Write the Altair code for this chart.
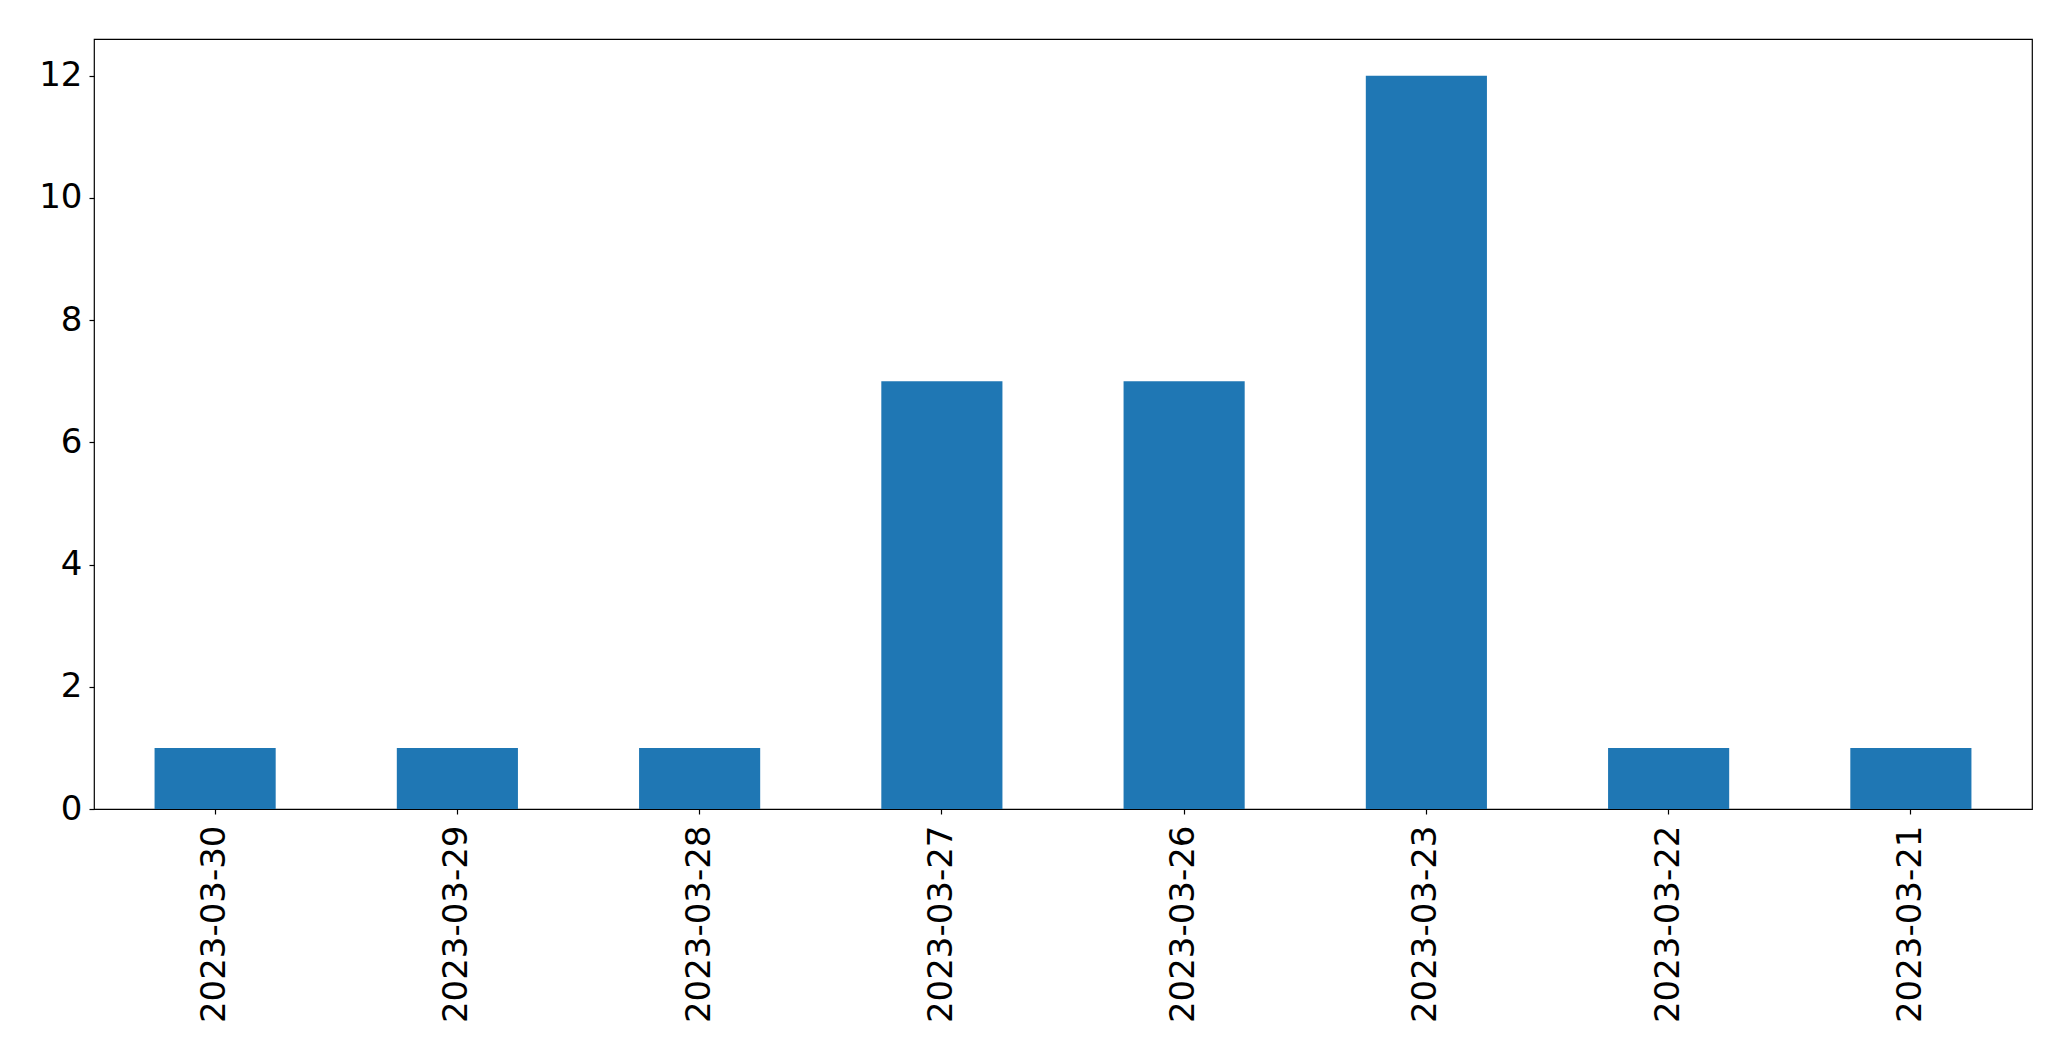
import altair as alt
import pandas as pd

dates = ["2023-03-30", "2023-03-29", "2023-03-28", "2023-03-27",
         "2023-03-26", "2023-03-23", "2023-03-22", "2023-03-21"]
counts = [1, 1, 1, 7, 7, 12, 1, 1]
y_ticks = [0, 2, 4, 6, 8, 10, 12]

df = pd.DataFrame({"date": dates, "count": counts})

chart = alt.Chart(df).mark_bar(color="#1f77b4").encode(
    x=alt.X("date:N", sort=None, title=None,
            scale=alt.Scale(paddingInner=0.5, paddingOuter=0.25),
            axis=alt.Axis(labelAngle=270, labelAlign="right", labelBaseline="middle",
                          labelFontSize=34, labelFont="DejaVu Sans", labelColor="black",
                          labelLimit=0, tickSize=5, tickColor="black", tickWidth=1.2,
                          labelPadding=11, domain=False, grid=False)),
    y=alt.Y("count:Q", title=None,
            scale=alt.Scale(domain=[0, 12.6], nice=False, zero=True),
            axis=alt.Axis(values=y_ticks, labelFontSize=34, labelFont="DejaVu Sans",
                          labelColor="black", tickSize=5, tickColor="black", tickWidth=1.2,
                          labelPadding=7, domain=False, grid=False)),
).properties(
    width=1938, height=770,
    background="white",
    autosize=alt.AutoSizeParams(type="none"),
    padding={"left": 86, "top": 31, "right": 20, "bottom": 240},
).configure_view(stroke="black", strokeWidth=1.2)

chart.save("out.html", embed_options={"renderer": "svg", "actions": False})
